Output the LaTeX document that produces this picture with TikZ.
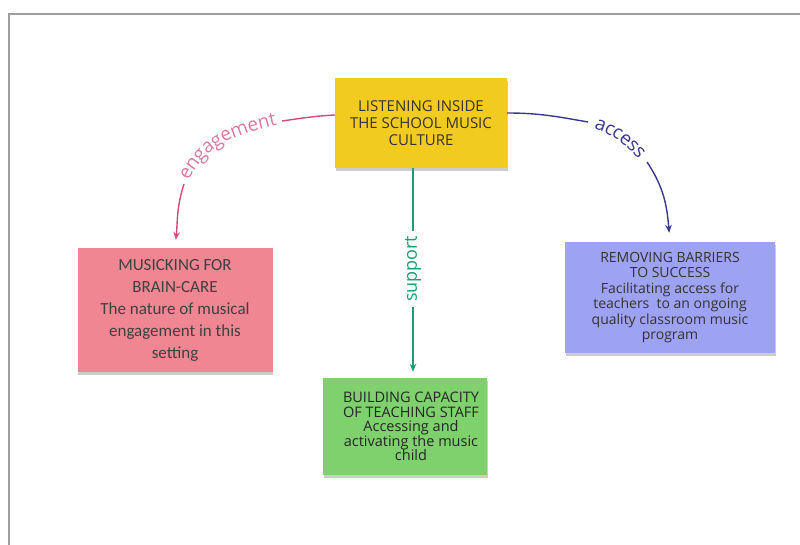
\documentclass[tikz,border=0pt]{standalone}
\usepackage{fontspec}
\setmainfont{Open Sans}
\newfontfamily\carlito{Carlito}
\usetikzlibrary{arrows.meta,shadows,decorations.text}
\definecolor{listenyellow}{RGB}{242,203,32}
\definecolor{brainpink}{RGB}{240,134,146}
\definecolor{barrierblue}{RGB}{158,162,242}
\definecolor{capacitygreen}{RGB}{126,209,108}
\definecolor{engpink}{RGB}{214,72,120}
\definecolor{englabel}{RGB}{222,120,158}
\definecolor{accblue}{RGB}{58,56,142}
\definecolor{supgreen}{RGB}{26,158,115}

\begin{document}
\begin{tikzpicture}[x=1pt,y=1pt,
  box/.style={align=center, inner sep=0pt,
    drop shadow={shadow xshift=0.5pt,shadow yshift=-3pt,opacity=0.4}},
  link/.style={line width=1.4pt},
  arrowhd/.style={-{Stealth[length=8pt,width=6.5pt]}}]
\useasboundingbox (0,0) rectangle (800,-545);
% frame
\draw[gray!75, line width=1.8pt] (800,-14) -- (9,-14) -- (9,-545);
% boxes
\node[box, fill=listenyellow, text=black!80, minimum width=172pt, minimum height=90pt,
  font=\fontsize{15}{17}\selectfont] (listen) at (421,-123)
  {LISTENING INSIDE\\THE SCHOOL MUSIC\\CULTURE};
\node[box, fill=brainpink, text=black!75, minimum width=195pt, minimum height=124pt,
  font=\carlito\fontsize{17}{22}\selectfont] (musicking) at (175,-310)
  {MUSICKING FOR\\BRAIN-CARE\\The nature of musical\\engagement in this\\setting};
\node[box, fill=barrierblue, text=black!80, minimum width=210pt, minimum height=111pt,
  font=\fontsize{14}{15.5}\selectfont] (removing) at (670,-297.5)
  {REMOVING BARRIERS\\TO SUCCESS\\Facilitating access for\\teachers~ to an ongoing\\quality classroom music\\program};
\node[box, fill=capacitygreen, text=black!85, minimum width=164pt, minimum height=97pt,
  font=\fontsize{14.5}{14.5}\selectfont] (building) at (405,-426.5)
  {\hspace*{12pt}BUILDING CAPACITY\\\hspace*{12pt}OF TEACHING STAFF\\\hspace*{12pt}Accessing and\\\hspace*{12pt}activating the music\\\hspace*{12pt}child};
% engagement
\coordinate (engA) at (282,-121);
\coordinate (engB) at (184,-184);
\draw[link, engpink] ([yshift=8pt]listen.west) to[out=183,in=8] (engA);
\path[decorate, decoration={text along path, text align=center, raise=-3pt,
  text={|\color{englabel}\fontsize{19}{19}\selectfont|engagement}}]
  (engB) to[out=68,in=192] (engA);
\draw[link, engpink, arrowhd, shorten >=8pt] (engB) to[out=252,in=84] (musicking.north);
% access
\coordinate (accA) at (588,-122);
\coordinate (accB) at (647,-162);
\draw[link, accblue] ([yshift=10pt]listen.east) to[out=0,in=170] (accA);
\path[decorate, decoration={text along path, text align=center, raise=-5pt,
  text={|\color{accblue}\fontsize{19}{19}\selectfont|access}}]
  (accA) to[out=-14,in=128] (accB);
\draw[link, accblue, arrowhd, shorten >=9pt] (accB) to[out=-56,in=95] (removing.north);
% support
\draw[link, supgreen, arrowhd, shorten >=6pt] ([xshift=-8pt]listen.south) -- ([xshift=8pt]building.north)
  node[pos=0.48, rotate=90, fill=white, inner xsep=5pt, inner ysep=1pt, text=supgreen,
    font=\fontsize{18}{18}\selectfont] (suplabel) {support};
\end{tikzpicture}
\end{document}
